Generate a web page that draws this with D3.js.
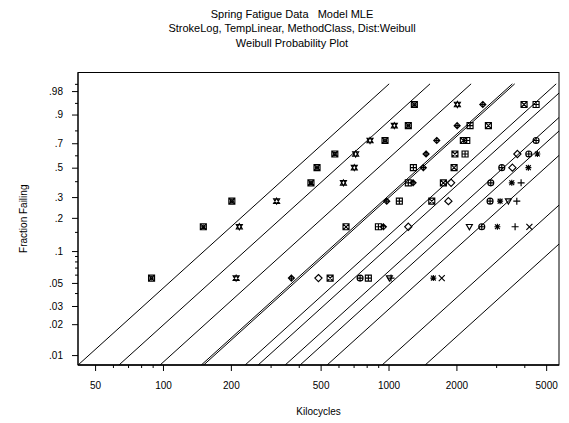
<!DOCTYPE html>
<html>
<head>
<meta charset="utf-8">
<script src="https://cdn.jsdelivr.net/npm/d3@7"></script>
<style>
  body { margin: 0; background: #fff; }
  svg { display: block; }
  text { font-family: "Liberation Sans", Arial, Helvetica, sans-serif; fill: #000; }
</style>
</head>
<body>
<svg id="chart" width="569" height="423"></svg>
<script>
// Spring fatigue life test: Weibull probability plot with the fitted
// regression model (log stroke, linear temperature, method as a class).

const titleLines = [
  "Spring Fatigue Data   Model MLE",
  "StrokeLog, TempLinear, MethodClass, Dist:Weibull",
  "Weibull Probability Plot"
];
const xTitle = "Kilocycles";
const yTitle = "Fraction Failing";

// Plotting positions of the 1st..9th ordered failure in a group of 9 springs
const plottingPositions = [0.0556, 0.1667, 0.2778, 0.3889, 0.5, 0.6111, 0.7222, 0.8333, 0.9444];

// Marker used for each test condition
const groupSymbols = [
  "squareCircleX", "starOfDavid", "diamondPlus", "squarePlus",
  "squareCross", "diamond", "circlePlus", "asterisk",
  "triangleDown", "plus", "cross", "circleCross"
];

// Ordered failure times (kilocycles) in each test condition; the rest were censored
const failureTimes = [
  [89, 151, 202, 453, 482, 578, 965, 1224, 1302],
  [211, 218, 319, 631, 705, 715, 828, 1061, 2020],
  [371, 949, 982, 1285, 1427, 1467, 1636, 2015, 2618],
  [814, 902, 1117, 1224, 1289, 2185, 2223, 2299, 4511],
  [551, 648, 1555, 1751, 1953, 1970, 2147, 2772, 3990],
  [489, 1224, 1843, 1894, 3542, 3727],
  [748, 2591, 2820, 2840, 3178, 4187, 4511],
  [1580, 3039, 3124, 3520, 4170, 4571],
  [1009, 2283, 3400],
  [1026, 3641, 3705, 3871],
  [1722, 4213],
  []
];

// Fitted Weibull scale (kilocycles) for each condition, common shape
const fittedEta = [469, 712, 1083, 1650, 1690, 2581, 2947, 3884, 4525, 5960, 10450, 16220];
const weibullShape = 2.0;

const xMajorTicks = [50, 100, 200, 500, 1000, 2000, 5000];
const xMinorTicks = [60, 70, 80, 90, 300, 400, 600, 700, 800, 900, 3000, 4000];
const yMajorTicks = [0.01, 0.02, 0.03, 0.05, 0.1, 0.2, 0.3, 0.5, 0.7, 0.9, 0.98];
const yMinorTicks = [0.04, 0.06, 0.07, 0.08, 0.09, 0.15, 0.4, 0.6, 0.8, 0.95, 0.99];

const svg = d3.select("#chart");
const plot = { left: 78, right: 559, top: 72.5, bottom: 365 };

// Weibull probability scale: log(-log(1 - p)) is linear on the axis
const cll = p => Math.log(-Math.log(1 - p));
const x = d3.scaleLog().domain([42, 5700]).range([plot.left, plot.right]);
const yLin = d3.scaleLinear().domain([cll(0.008), cll(0.9974)]).range([plot.bottom, plot.top]);
const y = p => yLin(cll(p));

// Titles
svg.append("g")
  .selectAll("text")
  .data(titleLines)
  .join("text")
  .attr("x", 292)
  .attr("y", (d, i) => 17.5 + i * 14.5)
  .attr("text-anchor", "middle")
  .attr("xml:space", "preserve")
  .style("white-space", "pre")
  .style("font-size", "11px")
  .text(d => d);

svg.append("defs").append("clipPath").attr("id", "plotClip")
  .append("rect")
  .attr("x", plot.left).attr("y", plot.top)
  .attr("width", plot.right - plot.left).attr("height", plot.bottom - plot.top);

// Fitted lines, drawn up to 99% failing
const lineGen = d3.line().x(d => x(d[0])).y(d => yLin(d[1]));
svg.append("g")
  .attr("clip-path", "url(#plotClip)")
  .selectAll("path")
  .data(fittedEta)
  .join("path")
  .attr("d", eta => {
    const pts = [0.0005, 0.99].map(p => {
      const z = cll(p);
      return [eta * Math.exp(z / weibullShape), z];
    });
    return lineGen(pts);
  })
  .attr("fill", "none")
  .attr("stroke", "#000")
  .attr("stroke-width", 1);

// Marker shapes, centred on (0,0)
const s = 3;
const tri = (dir) => `M${-s},${-dir * s * 0.75}L${s},${-dir * s * 0.75}L0,${dir * s}Z`;
const circle = r => `M${-r},0A${r},${r} 0 1,0 ${r},0A${r},${r} 0 1,0 ${-r},0Z`;
const plusPath = `M${-s},0H${s}M0,${-s}V${s}`;
const crossPath = `M${-s},${-s}L${s},${s}M${-s},${s}L${s},${-s}`;
const squarePath = `M${-s},${-s}H${s}V${s}H${-s}Z`;
const diamondPath = `M0,${-s - 0.6}L${s + 0.6},0L0,${s + 0.6}L${-s - 0.6},0Z`;
const smallDiamond = `M0,${-s}L${s},0L0,${s}L${-s},0Z`;
const symbolPaths = {
  squareCircleX: squarePath + crossPath + circle(1.6),
  starOfDavid: tri(1) + tri(-1),
  diamondPlus: smallDiamond + `M0,${-s - 0.5}V${s + 0.5}M${-s},0H${s}`,
  squarePlus: squarePath + plusPath,
  squareCross: squarePath + crossPath,
  diamond: diamondPath,
  circlePlus: circle(s) + `M${-s},0H${s}M0,${-s}V${s}`,
  asterisk: plusPath + `M${-s * 0.8},${-s * 0.8}L${s * 0.8},${s * 0.8}M${-s * 0.8},${s * 0.8}L${s * 0.8},${-s * 0.8}`,
  triangleDown: tri(1),
  plus: `M${-s - 0.5},0H${s + 0.5}M0,${-s - 0.5}V${s + 0.5}`,
  cross: crossPath,
  circleCross: circle(s) + `M${-s * 0.7},${-s * 0.7}L${s * 0.7},${s * 0.7}M${-s * 0.7},${s * 0.7}L${s * 0.7},${-s * 0.7}`
};

const points = failureTimes.flatMap((times, g) =>
  times.map((t, i) => ({ t, p: plottingPositions[i], symbol: groupSymbols[g] })));

svg.append("g")
  .selectAll("path")
  .data(points)
  .join("path")
  .attr("transform", d => `translate(${x(d.t)},${y(d.p)})`)
  .attr("d", d => symbolPaths[d.symbol])
  .attr("fill", "none")
  .attr("stroke", "#000")
  .attr("stroke-width", 1.15);

// Frame
svg.append("rect")
  .attr("x", plot.left).attr("y", plot.top)
  .attr("width", plot.right - plot.left).attr("height", plot.bottom - plot.top)
  .attr("fill", "none").attr("stroke", "#000").attr("stroke-width", 1);

// X axis
const xAxisG = svg.append("g").attr("transform", `translate(0,${plot.bottom})`);
xAxisG.append("g")
  .call(d3.axisBottom(x).tickValues(xMinorTicks).tickSize(3).tickFormat(""))
  .call(g => g.select(".domain").remove());
xAxisG.append("g")
  .call(d3.axisBottom(x).tickValues(xMajorTicks).tickSize(6).tickPadding(11).tickFormat(d3.format("d")))
  .call(g => g.select(".domain").attr("stroke-width", 1.5).attr("d", `M${plot.left},0H${plot.right}`))
  .call(g => g.selectAll("text").style("font-size", "10px").attr("font-family", null));

// Y axis
const yAxisG = svg.append("g").attr("transform", `translate(${plot.left},0)`);
yAxisG.append("g")
  .call(d3.axisLeft(yLin).tickValues(yMinorTicks.map(cll)).tickSize(3).tickFormat(""))
  .call(g => g.select(".domain").remove());
yAxisG.append("g")
  .call(d3.axisLeft(yLin).tickValues(yMajorTicks.map(cll)).tickSize(6).tickPadding(9)
    .tickFormat((d, i) => String(yMajorTicks[i]).replace(/^0/, "")))
  .call(g => g.select(".domain").attr("d", `M0,${plot.top}V${plot.bottom}`))
  .call(g => g.selectAll("text").style("font-size", "10px").attr("font-family", null));

// Axis titles
svg.append("text")
  .attr("x", (plot.left + plot.right) / 2)
  .attr("y", 415)
  .attr("text-anchor", "middle")
  .style("font-size", "10px")
  .text(xTitle);

svg.append("text")
  .attr("transform", `translate(27,${(plot.top + plot.bottom) / 2}) rotate(-90)`)
  .attr("text-anchor", "middle")
  .style("font-size", "10px")
  .text(yTitle);
</script>
</body>
</html>
